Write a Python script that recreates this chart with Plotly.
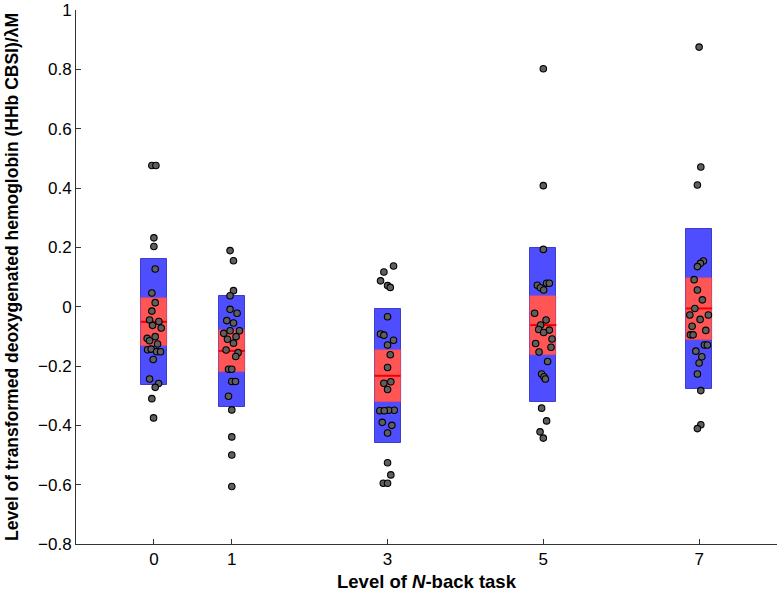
import plotly.graph_objects as go

# N-back levels and category labels
levels = [0, 1, 3, 5, 7]
tick_labels = ["0", "1", "3", "5", "7"]

# Summary statistics (mean, 95% CI band, SD band)
means = [-0.051, -0.149, -0.233, -0.062, -0.006]
ci_hi = [0.029, -0.079, -0.146, 0.035, 0.096]
ci_lo = [-0.132, -0.221, -0.320, -0.163, -0.111]
sd_hi = [0.161, 0.037, -0.008, 0.198, 0.262]
sd_lo = [-0.265, -0.337, -0.458, -0.323, -0.278]

# Individual subject values per level
vals_0 = [0.476, 0.476, 0.232, 0.203, 0.127, 0.046, 0.0135, -0.015, -0.045, -0.05, -0.063, -0.072, -0.101,
          -0.107, -0.115, -0.126, -0.145, -0.143, -0.152, -0.152, -0.178, -0.244, -0.259, -0.272, -0.31, -0.375]
vals_1 = [0.189, 0.155, 0.054, 0.037, -0.009, -0.022, -0.047, -0.055, -0.081, -0.081, -0.09, -0.101, -0.11,
          -0.123, -0.146, -0.155, -0.168, -0.211, -0.211, -0.252, -0.252, -0.302, -0.348, -0.439, -0.5, -0.606]
vals_3 = [0.137, 0.117, 0.087, 0.071, 0.065, -0.034, -0.092, -0.096, -0.113, -0.129, -0.162, -0.205, -0.253,
          -0.258, -0.279, -0.349, -0.349, -0.351, -0.351, -0.39, -0.4, -0.426, -0.526, -0.567, -0.595, -0.595]
vals_5 = [0.802, 0.408, 0.193, 0.079, 0.079, 0.072, 0.064, 0.056, -0.022, -0.045, -0.062, -0.077, -0.079,
          -0.087, -0.109, -0.124, -0.137, -0.153, -0.185, -0.227, -0.236, -0.244, -0.342, -0.385, -0.422, -0.443]
vals_7 = [0.875, 0.471, 0.41, 0.154, 0.146, 0.135, 0.091, 0.056, 0.023, -0.006, -0.028, -0.028, -0.043,
          -0.066, -0.08, -0.095, -0.095, -0.129, -0.129, -0.15, -0.169, -0.19, -0.227, -0.283, -0.398, -0.411]

# Horizontal jitter of each point (x offset)
jit_0 = [-0.026, 0.026, 0, 0, 0.017, -0.026, 0.017, -0.026, -0.055, 0.064, -0.017, 0.094, 0.017, -0.086,
         -0.055, 0.047, -0.081, -0.035, 0.035, 0.086, -0.009, -0.055, 0.06, 0.017, -0.026, -0.004]
jit_1 = [-0.022, 0.022, 0.022, -0.022, -0.022, 0.068, -0.064, 0.022, -0.022, 0.099, -0.103, 0.055, -0.055,
         0.022, -0.073, 0.081, 0.051, -0.042, 0, 0, 0.047, -0.042, 0, 0, 0, 0]
jit_3 = [0.077, -0.047, -0.09, 0, 0.035, 0, -0.09, -0.047, 0.077, 0, 0.035, 0, 0.042, -0.047, 0, 0.086,
         0.013, -0.099, -0.042, -0.068, 0.055, 0, 0, 0.042, -0.055, 0]
jit_5 = [0, 0, 0, 0.042, 0.077, -0.077, -0.038, 0.004, -0.112, 0.035, -0.035, -0.06, 0.077, 0.004, 0.112,
         -0.099, 0.099, -0.055, 0.055, -0.022, 0.009, 0.026, -0.022, 0.042, -0.042, 0]
jit_7 = [0, 0.022, -0.022, 0.055, 0.017, -0.022, -0.064, -0.022, 0.042, -0.055, -0.119, 0.119, 0.013, -0.09,
         0.086, -0.112, -0.077, 0.068, 0.106, -0.042, 0.035, 0, -0.022, 0.022, 0.022, -0.022]

all_vals = [vals_0, vals_1, vals_3, vals_5, vals_7]
all_jit = [jit_0, jit_1, jit_3, jit_5, jit_7]

BOX_W = 0.334
FONT = "Liberation Sans, Arial, Helvetica, sans-serif"

fig = go.Figure()

# SD bands (blue)
fig.add_trace(go.Bar(
    x=levels, base=sd_lo, y=[h - l for h, l in zip(sd_hi, sd_lo)], width=BOX_W,
    marker=dict(color="rgb(78,78,255)", line=dict(color="rgb(60,60,205)", width=1)),
    hoverinfo="skip", showlegend=False))
# 95% CI bands (red)
fig.add_trace(go.Bar(
    x=levels, base=ci_lo, y=[h - l for h, l in zip(ci_hi, ci_lo)], width=BOX_W,
    marker=dict(color="rgb(255,85,85)", line=dict(color="rgb(220,70,110)", width=0.6)),
    hoverinfo="skip", showlegend=False))

# Mean lines
for lv, m in zip(levels, means):
    fig.add_trace(go.Scatter(x=[lv - BOX_W / 2, lv + BOX_W / 2], y=[m, m], mode="lines",
                             line=dict(color="rgb(240,0,0)", width=2), hoverinfo="skip", showlegend=False))

# Individual points
for lv, vals, jit in zip(levels, all_vals, all_jit):
    fig.add_trace(go.Scatter(
        x=[lv + j for j in jit], y=vals, mode="markers",
        marker=dict(size=6.5, color="rgb(95,95,95)", line=dict(color="black", width=1.1)),
        showlegend=False))

fig.update_layout(
    width=780, height=595,
    margin=dict(l=76, r=3, t=10, b=51),
    plot_bgcolor="white", paper_bgcolor="white",
    barmode="overlay", bargap=0,
    font=dict(family=FONT, size=17, color="black"),
    xaxis=dict(range=[-1, 8], tickvals=levels, ticktext=tick_labels, ticks="inside", ticklen=5,
               tickcolor="#333", showline=True, linecolor="#333", linewidth=1, showgrid=False,
               zeroline=False, tickfont=dict(size=17), automargin=False),
    yaxis=dict(range=[-0.8, 1], dtick=0.2, tick0=0, ticks="inside", ticklen=5, tickcolor="#333",
               showline=True, linecolor="#333", linewidth=1, showgrid=False, zeroline=False,
               tickfont=dict(size=17), automargin=False),
    annotations=[
        dict(text="<b>Level of <i>N</i>-back task</b>", xref="paper", yref="paper", x=0.5, y=0,
             xanchor="center", yanchor="middle", yshift=-37, showarrow=False, font=dict(size=18.5)),
        dict(text="<b>Level of transformed deoxygenated hemoglobin (HHb CBSI)/λM</b>", xref="paper",
             yref="paper", x=0, y=0.5, xanchor="center", yanchor="middle", xshift=-64, textangle=-90,
             showarrow=False, font=dict(size=17.5)),
    ],
)

fig.write_html(
    "out.html",
    config={"displayModeBar": False},
    post_script="document.body.style.margin='0';document.body.style.padding='0';document.body.style.overflow='hidden';",
)
